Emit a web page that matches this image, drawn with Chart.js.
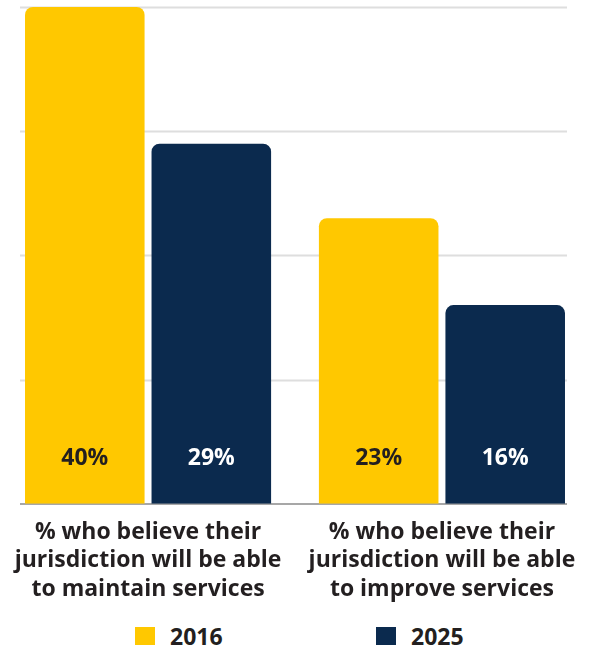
<!DOCTYPE html>
<html>
<head>
<meta charset="utf-8">
<script src="https://cdn.jsdelivr.net/npm/chart.js@4.4.0/dist/chart.umd.min.js"></script>
<style>
  html, body { margin: 0; padding: 0; background: #ffffff; }
  #wrap { width: 590px; height: 618px; position: relative; }
  #legend {
    position: absolute; left: 0; top: 622px; width: 590px; height: 27px;
    font-family: "Open Sans", Lato, sans-serif; font-weight: 700; font-size: 23px; color: #231F20;
  }
  .item { position: absolute; top: 0; display: flex; align-items: center; height: 27px; }
  .swatch { width: 20px; height: 18px; margin-right: 15px; }
</style>
</head>
<body>
<div id="wrap"><canvas id="chart"></canvas></div>
<div id="legend"></div>
<script>
// --- DATA ---
const categories = [
    ['% who believe their', 'jurisdiction will be able', 'to maintain services'],
    ['% who believe their', 'jurisdiction will be able', 'to improve services']
];
const years = ['2016', '2025'];
const series2016 = [40, 23];
const series2025 = [29, 16];
const gridValues = [10, 20, 30, 40];

const YELLOW = '#FFC800';
const NAVY = '#0B2A4E';
const TEXT = '#231F20';
const FONT = '"Open Sans", Lato, sans-serif';

// light gridlines that stop short of the canvas edges, plus the darker baseline
const gridPlugin = {
    id: 'shortGrid',
    beforeDatasetsDraw(chart) {
        const { ctx, scales: { y } } = chart;
        ctx.save();
        ctx.lineWidth = 2;
        ctx.strokeStyle = '#DEDEDE';
        gridValues.forEach(v => {
            const py = Math.round(y.getPixelForValue(v)) + 0.5;
            ctx.beginPath();
            ctx.moveTo(20, py);
            ctx.lineTo(567, py);
            ctx.stroke();
        });
        ctx.lineWidth = 1.5;
        ctx.strokeStyle = '#8A8A8A';
        const base = Math.round(y.getPixelForValue(0));
        ctx.beginPath();
        ctx.moveTo(20, base);
        ctx.lineTo(567, base);
        ctx.stroke();
        ctx.restore();
    }
};

// value labels near the foot of each bar
const valueLabels = {
    id: 'valueLabels',
    afterDatasetsDraw(chart) {
        const { ctx, scales: { y } } = chart;
        const base = y.getPixelForValue(0);
        ctx.save();
        ctx.font = 'bold 23px ' + FONT;
        ctx.textAlign = 'center';
        ctx.textBaseline = 'middle';
        chart.data.datasets.forEach((ds, di) => {
            const meta = chart.getDatasetMeta(di);
            ctx.fillStyle = di === 0 ? TEXT : '#FFFFFF';
            meta.data.forEach((bar, i) => {
                ctx.fillText(ds.data[i] + '%', bar.x, base - 45);
            });
        });
        ctx.restore();
    }
};

const chart = new Chart(document.getElementById('chart'), {
    type: 'bar',
    data: {
        labels: categories,
        datasets: [
            { label: years[0], data: series2016, backgroundColor: YELLOW },
            { label: years[1], data: series2025, backgroundColor: NAVY }
        ]
    },
    options: {
        responsive: true,
        maintainAspectRatio: false,
        animation: false,
        layout: { padding: { top: 7, left: 0, right: 0, bottom: 0 } },
        datasets: {
            bar: {
                categoryPercentage: 0.861,
                barPercentage: 0.945,
                borderRadius: 8,
                borderSkipped: 'start'
            }
        },
        scales: {
            x: {
                grid: { display: false, drawTicks: false },
                border: { display: false },
                ticks: {
                    color: TEXT,
                    font: { family: FONT, size: 23, weight: 'bold', lineHeight: 1.22 },
                    padding: 15,
                    maxRotation: 0
                }
            },
            y: {
                display: false,
                min: 0,
                max: 40
            }
        },
        plugins: {
            legend: { display: false },
            tooltip: { enabled: false }
        }
    },
    plugins: [gridPlugin, valueLabels]
});

// legend built from the datasets, one item under each group
const legendX = [135, 376];
const legendEl = document.getElementById('legend');
chart.data.datasets.forEach((ds, i) => {
    const item = document.createElement('div');
    item.className = 'item';
    item.style.left = legendX[i] + 'px';
    const sw = document.createElement('span');
    sw.className = 'swatch';
    sw.style.background = ds.backgroundColor;
    const txt = document.createElement('span');
    txt.textContent = ds.label;
    item.appendChild(sw);
    item.appendChild(txt);
    legendEl.appendChild(item);
});
</script>
</body>
</html>
